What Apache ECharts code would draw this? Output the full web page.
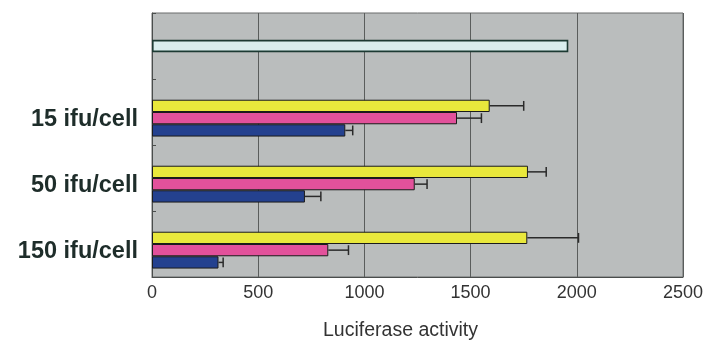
<!DOCTYPE html>
<html>
<head>
<meta charset="utf-8">
<title>Luciferase activity</title>
<script src="https://cdn.jsdelivr.net/npm/echarts@6/dist/echarts.min.js"></script>
<style>
  html, body { margin: 0; padding: 0; background: #ffffff; }
  #chart { width: 714px; height: 349px; }
</style>
</head>
<body>
<div id="chart"></div>
<script>
// Dose groups, top to bottom (the first row is the untreated control)
const categories = ['', '15 ifu/cell', '50 ifu/cell', '150 ifu/cell'];

// Control bar (only in the first row)
const controlValues = [1960, null, null, null];

// Three conditions per dose, with their upper error margins
const yellowValues = [null, 1590, 1770, 1767];
const yellowErrors = [null, 160, 86, 241];
const pinkValues   = [null, 1436, 1237, 830];
const pinkErrors   = [null, 115, 58, 95];
const blueValues   = [null, 910, 720, 313];
const blueErrors   = [null, 35, 75, 22];

// Value-axis ticks
const xTicks = [0, 500, 1000, 1500, 2000, 2500];

const BAR_FRACTION = 0.186;   // bar thickness as a share of the category band
const SLOTS = 4;              // cluster slots: one empty slot on top, then the three conditions

const groups = [
  { values: yellowValues, errors: yellowErrors, color: '#e9e83c' },
  { values: pinkValues,   errors: pinkErrors,   color: '#e2519b' },
  { values: blueValues,   errors: blueErrors,   color: '#24418f' }
];

const barStyleBase = {
  type: 'bar',
  xAxisIndex: 0,
  yAxisIndex: 0,
  barWidth: (BAR_FRACTION * 100) + '%',
  barGap: '0%',
  silent: true,
  z: 2
};

// Empty leading slot of each cluster
const spacerSeries = Object.assign({}, barStyleBase, {
  data: categories.map(() => null),
  itemStyle: { color: 'transparent' }
});

const barSeries = groups.map(g => Object.assign({}, barStyleBase, {
  data: g.values,
  itemStyle: { color: g.color, borderColor: '#1b1b1b', borderWidth: 1 }
}));

// Positive-only error whiskers drawn at the end of each bar
const errorSeries = groups.map((g, idx) => ({
  type: 'custom',
  xAxisIndex: 0,
  yAxisIndex: 0,
  silent: true,
  z: 3,
  data: g.values.map((v, i) => v == null ? null : [v, i, g.errors[i], idx + 1]).filter(d => d),
  encode: { x: 0, y: 1 },
  renderItem: function (params, api) {
    const v = api.value(0);
    const cat = api.value(1);
    const e = api.value(2);
    const s = api.value(3);
    const band = api.size([0, 1])[1];
    const bw = band * BAR_FRACTION;
    const start = api.coord([v, cat]);
    const y = start[1] + (s - (SLOTS - 1) / 2) * bw;
    const xEnd = api.coord([v + e, cat])[0];
    const cap = bw * 0.8;
    const style = { stroke: '#2a2a2a', lineWidth: 1.5 };
    return {
      type: 'group',
      children: [
        { type: 'line', shape: { x1: start[0], y1: y, x2: xEnd, y2: y }, style: style },
        { type: 'line', shape: { x1: xEnd, y1: y - cap / 2, x2: xEnd, y2: y + cap / 2 }, style: style }
      ]
    };
  }
}));

const controlSeries = {
  type: 'bar',
  xAxisIndex: 0,
  yAxisIndex: 1,
  data: controlValues,
  barWidth: (BAR_FRACTION * 100) + '%',
  itemStyle: { color: '#d9eeee', borderColor: '#1c3a33', borderWidth: 1.6 },
  silent: true,
  z: 2
};

const chart = echarts.init(document.getElementById('chart'), null, { renderer: 'canvas' });

chart.setOption({
  animation: false,
  backgroundColor: '#ffffff',
  grid: {
    left: 152,
    right: 31,
    top: 13,
    bottom: 72,
    show: true,
    backgroundColor: '#babdbd',
    borderColor: '#6a6d6c',
    borderWidth: 1
  },
  xAxis: {
    type: 'value',
    min: xTicks[0],
    max: xTicks[xTicks.length - 1],
    interval: xTicks[1] - xTicks[0],
    name: 'Luciferase activity',
    nameLocation: 'middle',
    nameGap: 44,
    nameTextStyle: {
      fontFamily: 'Liberation Sans',
      fontSize: 19.5,
      color: '#333333',
      padding: [0, 34, 0, 0]
    },
    axisLine: { show: true, lineStyle: { color: '#4a4d4c', width: 1 } },
    axisTick: { show: false },
    axisLabel: {
      fontFamily: 'Liberation Sans',
      fontSize: 18,
      color: '#333333',
      margin: 7,
      formatter: v => String(v)
    },
    splitLine: { show: true, lineStyle: { color: '#5a5d5c', width: 1 } }
  },
  yAxis: [
    {
      type: 'category',
      data: categories,
      inverse: true,
      axisLine: { show: true, lineStyle: { color: '#4a4d4c', width: 1 } },
      axisTick: { show: true, inside: true, length: 4, lineStyle: { color: '#4a4d4c' } },
      axisLabel: {
        fontFamily: 'Liberation Sans',
        fontWeight: 'bold',
        fontSize: 23.5,
        color: '#1e2d2a',
        margin: 14,
        verticalAlign: 'top',
        lineHeight: 15
      },
      splitLine: { show: false }
    },
    {
      type: 'category',
      data: categories,
      inverse: true,
      position: 'left',
      show: false
    }
  ],
  series: [controlSeries, spacerSeries].concat(barSeries, errorSeries)
});
</script>
</body>
</html>
